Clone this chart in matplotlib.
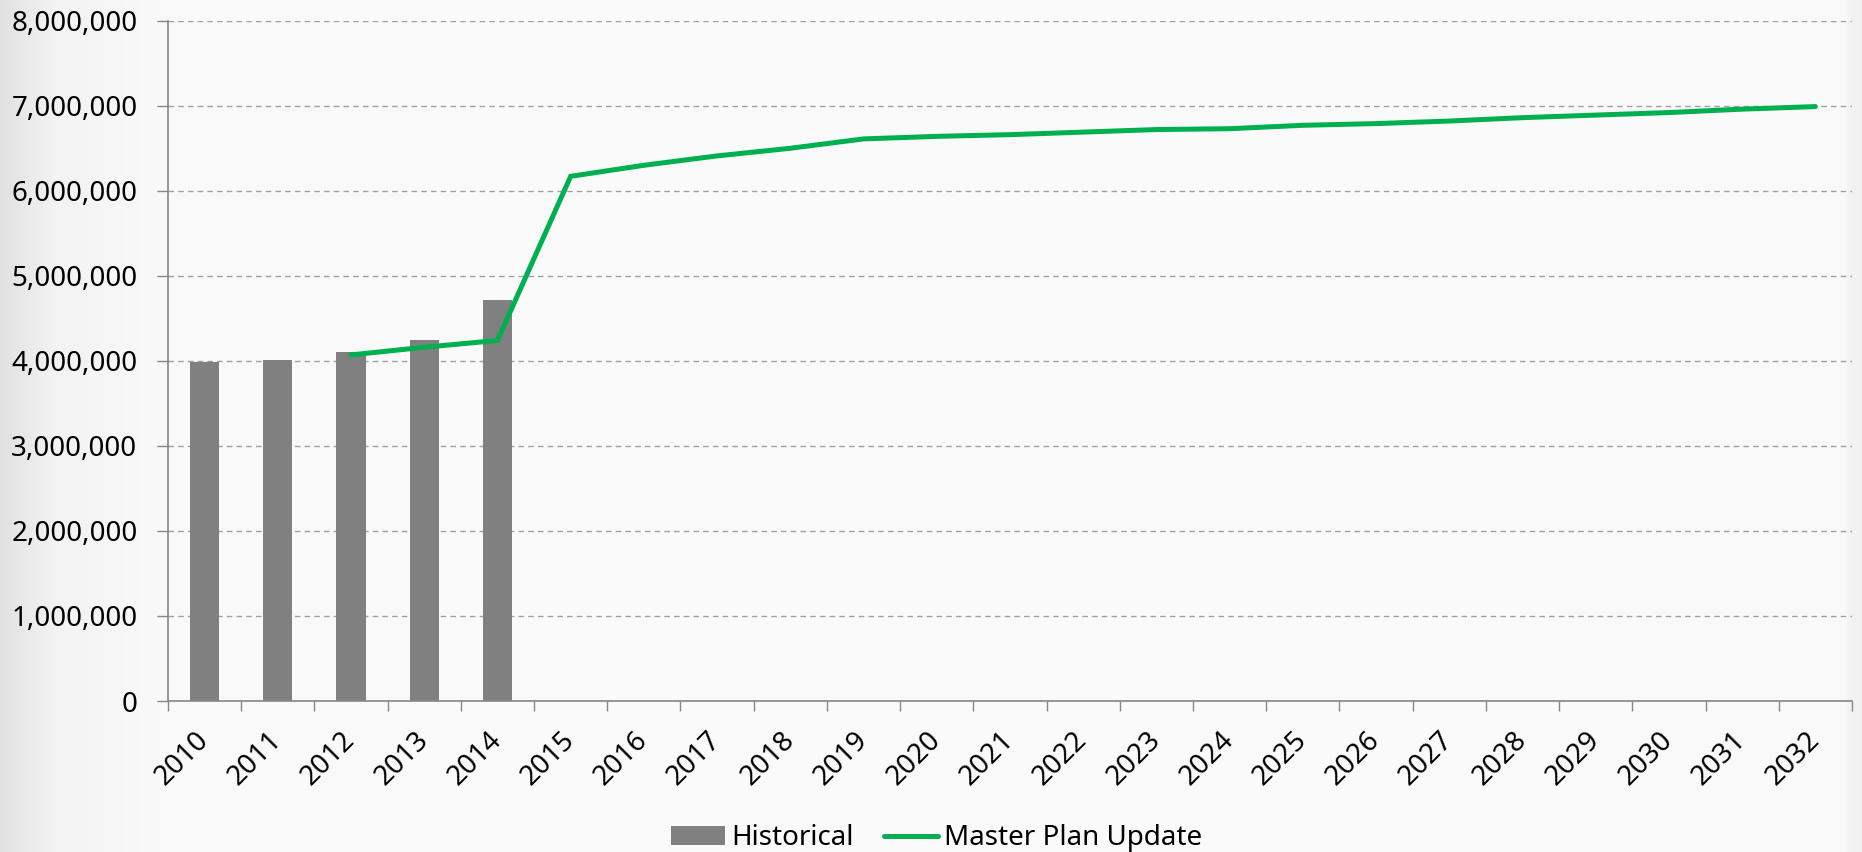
import numpy as np
import matplotlib.pyplot as plt
import matplotlib.transforms as mtransforms
from matplotlib.ticker import FuncFormatter, FixedLocator

plt.rcParams['font.family'] = ['Noto Sans', 'DejaVu Sans']

# data
years = [str(y) for y in range(2010, 2033)]
hist_years = ['2010', '2011', '2012', '2013', '2014']
historical = [3990000, 4010000, 4100000, 4250000, 4720000]
plan_years = years[2:]
master_plan = [4070000, 4160000, 4240000, 6170000, 6300000, 6410000, 6500000,
               6610000, 6640000, 6660000, 6690000, 6720000, 6730000, 6770000,
               6790000, 6820000, 6860000, 6890000, 6920000, 6960000, 6990000]

fig = plt.figure(figsize=(18.62, 8.52), dpi=100)

# soft grey background with darker edges
bg = fig.add_axes([0, 0, 1, 1], zorder=-5)
xs = np.linspace(0, 1, 1862)
shade = np.interp(xs, [0, 0.03, 0.09, 0.5, 0.99, 0.995, 1.0],
                  [0.88, 0.95, 0.975, 0.98, 0.975, 0.945, 0.94])
bg.imshow(np.tile(shade, (10, 1)), cmap='gray', vmin=0, vmax=1,
          aspect='auto', extent=[0, 1, 0, 1])
bg.axis('off')

ax = fig.add_axes([0.0902, 0.1772, 0.9044, 0.7985])
ax.patch.set_alpha(0)

x = np.arange(len(years))
pos = {y: i for i, y in enumerate(years)}
bars = ax.bar([pos[y] for y in hist_years], historical, width=0.4,
              color='#808080', zorder=2, label='Historical')
line, = ax.plot([pos[y] for y in plan_years], master_plan, color='#00b050',
                lw=3.6, solid_capstyle='round', solid_joinstyle='miter',
                zorder=3, label='Master Plan Update')

ax.set_xlim(-0.5, len(years) - 0.5)
ax.set_ylim(0, 8000000)
ax.set_yticks(np.arange(0, 8000001, 1000000))
ax.yaxis.set_major_formatter(FuncFormatter(lambda v, p: f'{int(v):,}'))
ax.grid(axis='y', color='#a0a0a0', linestyle=(0, (4, 3)), linewidth=1, zorder=1)

ax.set_xticks(x)
ax.set_xticklabels(years, rotation=45, ha='right', va='center',
                   rotation_mode='anchor')
shift = mtransforms.ScaledTranslation(8 / 100, 0, fig.dpi_scale_trans)
for lab in ax.get_xticklabels():
    lab.set_transform(lab.get_transform() + shift)
ax.xaxis.set_minor_locator(FixedLocator(np.arange(-0.5, len(years), 1)))
ax.tick_params(axis='x', which='major', length=0, pad=25, labelsize=20)
ax.tick_params(axis='x', which='minor', length=7, width=1, color='#868686')
ax.tick_params(axis='y', length=8, width=1, color='#868686', pad=14,
               labelsize=20)

for s in ['top', 'right']:
    ax.spines[s].set_visible(False)
for s in ['left', 'bottom']:
    ax.spines[s].set_color('#868686')
    ax.spines[s].set_linewidth(1.2)

fig.legend([bars, line], ['Historical', 'Master Plan Update'], loc='center',
           bbox_to_anchor=(0.503, 0.016), ncol=2, frameon=False,
           fontsize=20, handlelength=1.95, handletextpad=0.2, columnspacing=1.1)

fig.savefig('out.png', dpi=100)
